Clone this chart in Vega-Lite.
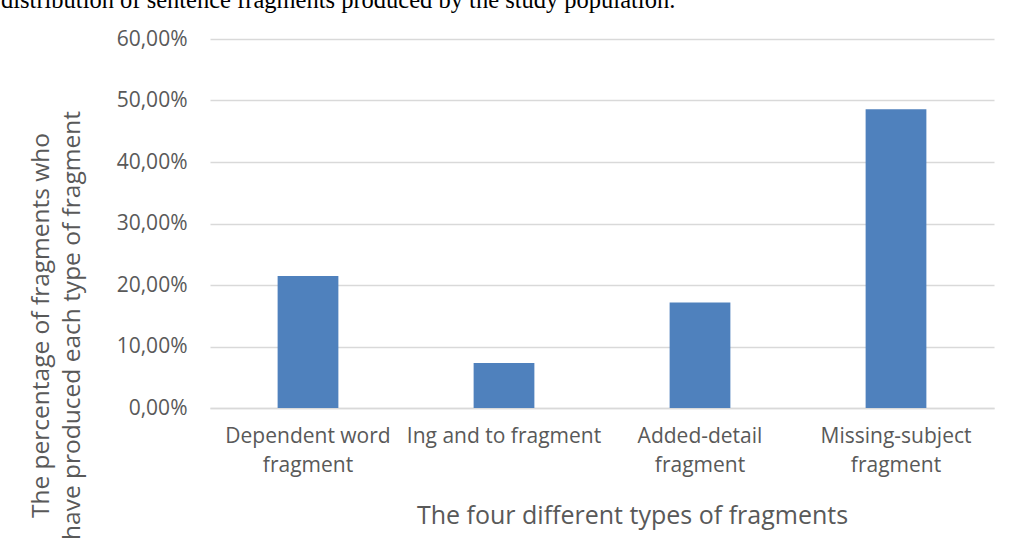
{
  "$schema": "https://vega.github.io/schema/vega-lite/v6.json",
  "autosize": {"type": "none"},
  "width": 784,
  "height": 369,
  "padding": {"left": 210, "top": 39, "right": 20, "bottom": 143},
  "background": "white",
  "title": {
    "text": "distribution of sentence fragments produced by the study population.",
    "anchor": "start",
    "frame": "group",
    "font": "Liberation Serif",
    "fontSize": 24.5,
    "fontWeight": "normal",
    "color": "#000000",
    "baseline": "alphabetic",
    "dx": -209,
    "dy": 8
  },
  "data": {
    "values": [
      {"type": "Dependent word fragment", "pct": 0.2146},
      {"type": "Ing and to fragment", "pct": 0.0732},
      {"type": "Added-detail fragment", "pct": 0.1715},
      {"type": "Missing-subject fragment", "pct": 0.4857}
    ]
  },
  "mark": {"type": "bar", "color": "#4f81bd"},
  "encoding": {
    "x": {
      "field": "type",
      "type": "nominal",
      "sort": null,
      "scale": {"paddingInner": 0.69, "paddingOuter": 0.345},
      "axis": {
        "title": "The four different types of fragments",
        "labelAngle": 0,
        "labelLimit": 400,
        "labelExpr": "datum.value == 'Dependent word fragment' ? ['Dependent word', 'fragment'] : datum.value == 'Added-detail fragment' ? ['Added-detail', 'fragment'] : datum.value == 'Missing-subject fragment' ? ['Missing-subject', 'fragment'] : datum.value",
        "labelBaseline": "top",
        "labelPadding": 17,
        "labelLineHeight": 29,
        "titleX": 422,
        "titleY": 107,
        "titleAlign": "center",
        "titleBaseline": "middle",
        "titleFontSize": 25,
        "ticks": false,
        "domainColor": "#d9d9d9",
        "domainWidth": 1.5
      }
    },
    "y": {
      "field": "pct",
      "type": "quantitative",
      "scale": {"domain": [0, 0.6], "nice": false},
      "axis": {
        "title": ["The percentage of fragments who", "have produced each type of fragment"],
        "values": [0, 0.1, 0.2, 0.3, 0.4, 0.5, 0.6],
        "labelExpr": "replace(format(datum.value, '.2%'), '.', ',')",
        "labelPadding": 23,
        "ticks": false,
        "domain": false,
        "grid": true,
        "gridColor": "#d9d9d9",
        "gridWidth": 1.5,
        "titleAngle": -90,
        "titleX": -169,
        "titleY": 286,
        "titleAlign": "center",
        "titleBaseline": "middle",
        "titleLineHeight": 31,
        "titleFontSize": 24.5
      }
    }
  },
  "config": {
    "view": {"stroke": null},
    "axis": {
      "labelFont": "Open Sans",
      "labelFontSize": 21,
      "labelColor": "#595959",
      "titleFont": "Open Sans",
      "titleFontSize": 23,
      "titleFontWeight": "normal",
      "titleColor": "#595959"
    }
  }
}
